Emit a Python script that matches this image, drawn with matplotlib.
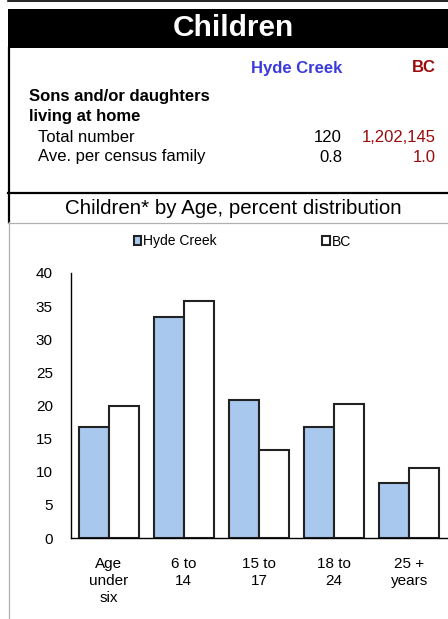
import matplotlib
matplotlib.use("Agg")
import matplotlib.pyplot as plt
from matplotlib.patches import Rectangle
from matplotlib.lines import Line2D
import numpy as np

plt.rcParams['font.family'] = ['Liberation Sans', 'DejaVu Sans']

categories = ["Age\nunder\nsix", "6 to\n14", "15 to\n17", "18 to\n24", "25 +\nyears"]
hyde_creek = [16.7, 33.3, 20.8, 16.7, 8.3]
bc = [20.0, 35.8, 13.3, 20.3, 10.5]
series_names = ["Hyde Creek", "BC"]
y_ticks = [0, 5, 10, 15, 20, 25, 30, 35, 40]

W, H = 448, 619
fig = plt.figure(figsize=(W / 100, H / 100), dpi=100)

def fx(x):
    return x / W

def fy(y):
    return 1 - y / H

# Frame elements
fig.add_artist(Line2D([fx(8), fx(448)], [fy(0.5), fy(0.5)], color="black", lw=1.2))
fig.add_artist(Rectangle((fx(8), fy(48)), fx(440), (48 - 9) / H, color="black", lw=0))
fig.add_artist(Line2D([fx(8.5), fx(8.5)], [fy(48), fy(222)], color="black", lw=1.6))
fig.add_artist(Line2D([fx(8), fx(448)], [fy(193), fy(193)], color="black", lw=1.6))
fig.add_artist(Line2D([fx(8), fx(448)], [fy(222.5), fy(222.5)], color="#b0b0b0", lw=0.9))
fig.add_artist(Line2D([fx(8.5), fx(8.5)], [fy(222), fy(619)], color="#b0b0b0", lw=0.9))

# Title
fig.text(fx(233), fy(28), "Children", color="white", fontsize=21.5, fontweight="bold",
         ha="center", va="center")

blue = "#3b3bdc"
red = "#9b0a0a"
fs = 12
fig.text(fx(342), fy(68), "Hyde Creek", color=blue, fontsize=fs, fontweight="bold",
         ha="right", va="center")
fig.text(fx(436), fy(68), "BC", color=red, fontsize=fs, fontweight="bold",
         ha="right", va="center")
fig.text(fx(29), fy(97), "Sons and/or daughters", fontsize=fs, fontweight="bold",
         ha="left", va="center")
fig.text(fx(29), fy(117), "living at home", fontsize=fs, fontweight="bold",
         ha="left", va="center")
fig.text(fx(38), fy(137), "Total number", fontsize=fs, ha="left", va="center")
fig.text(fx(38), fy(157), "Ave. per census family", fontsize=fs, ha="left", va="center")
fig.text(fx(342), fy(137), "120", fontsize=fs, ha="right", va="center")
fig.text(fx(342), fy(157), "0.8", fontsize=fs, ha="right", va="center")
fig.text(fx(436), fy(137), "1,202,145", fontsize=fs, color=red, ha="right", va="center")
fig.text(fx(436), fy(157), "1.0", fontsize=fs, color=red, ha="right", va="center")

fig.text(fx(233), fy(208), "Children* by Age, percent distribution", fontsize=14.8,
         ha="center", va="center")

# Chart
ax = fig.add_axes([fx(71), fy(538), (447 - 71) / W, (538 - 273) / H])
x = np.arange(len(categories))
bw = 0.4
b1 = ax.bar(x - bw / 2, hyde_creek, bw, color="#a8c8ee", edgecolor="#222222", linewidth=1.5,
            label=series_names[0])
b2 = ax.bar(x + bw / 2, bc, bw, color="white", edgecolor="#222222", linewidth=1.5,
            label=series_names[1])
ax.set_xlim(-0.5, len(categories) - 0.5)
ax.set_ylim(0, 40)
ax.set_yticks(y_ticks)
ax.set_xticks(x)
ax.set_xticklabels(categories, fontsize=11, linespacing=1.27)
ax.tick_params(axis="y", labelsize=11, length=0, pad=13)
ax.tick_params(axis="x", length=0, pad=14)
for s in ["top", "right"]:
    ax.spines[s].set_visible(False)
ax.spines["left"].set_linewidth(1.0)
ax.spines["bottom"].set_linewidth(1.0)

fig.legend(handles=[b1, b2], labels=series_names, loc="center",
           bbox_to_anchor=(fx(242.5), fy(241.5)), ncol=2, frameon=False, fontsize=10,
           handlelength=0.55, handleheight=0.55, handletextpad=0.15, columnspacing=7.6)

fig.savefig("out.png", dpi=100)
